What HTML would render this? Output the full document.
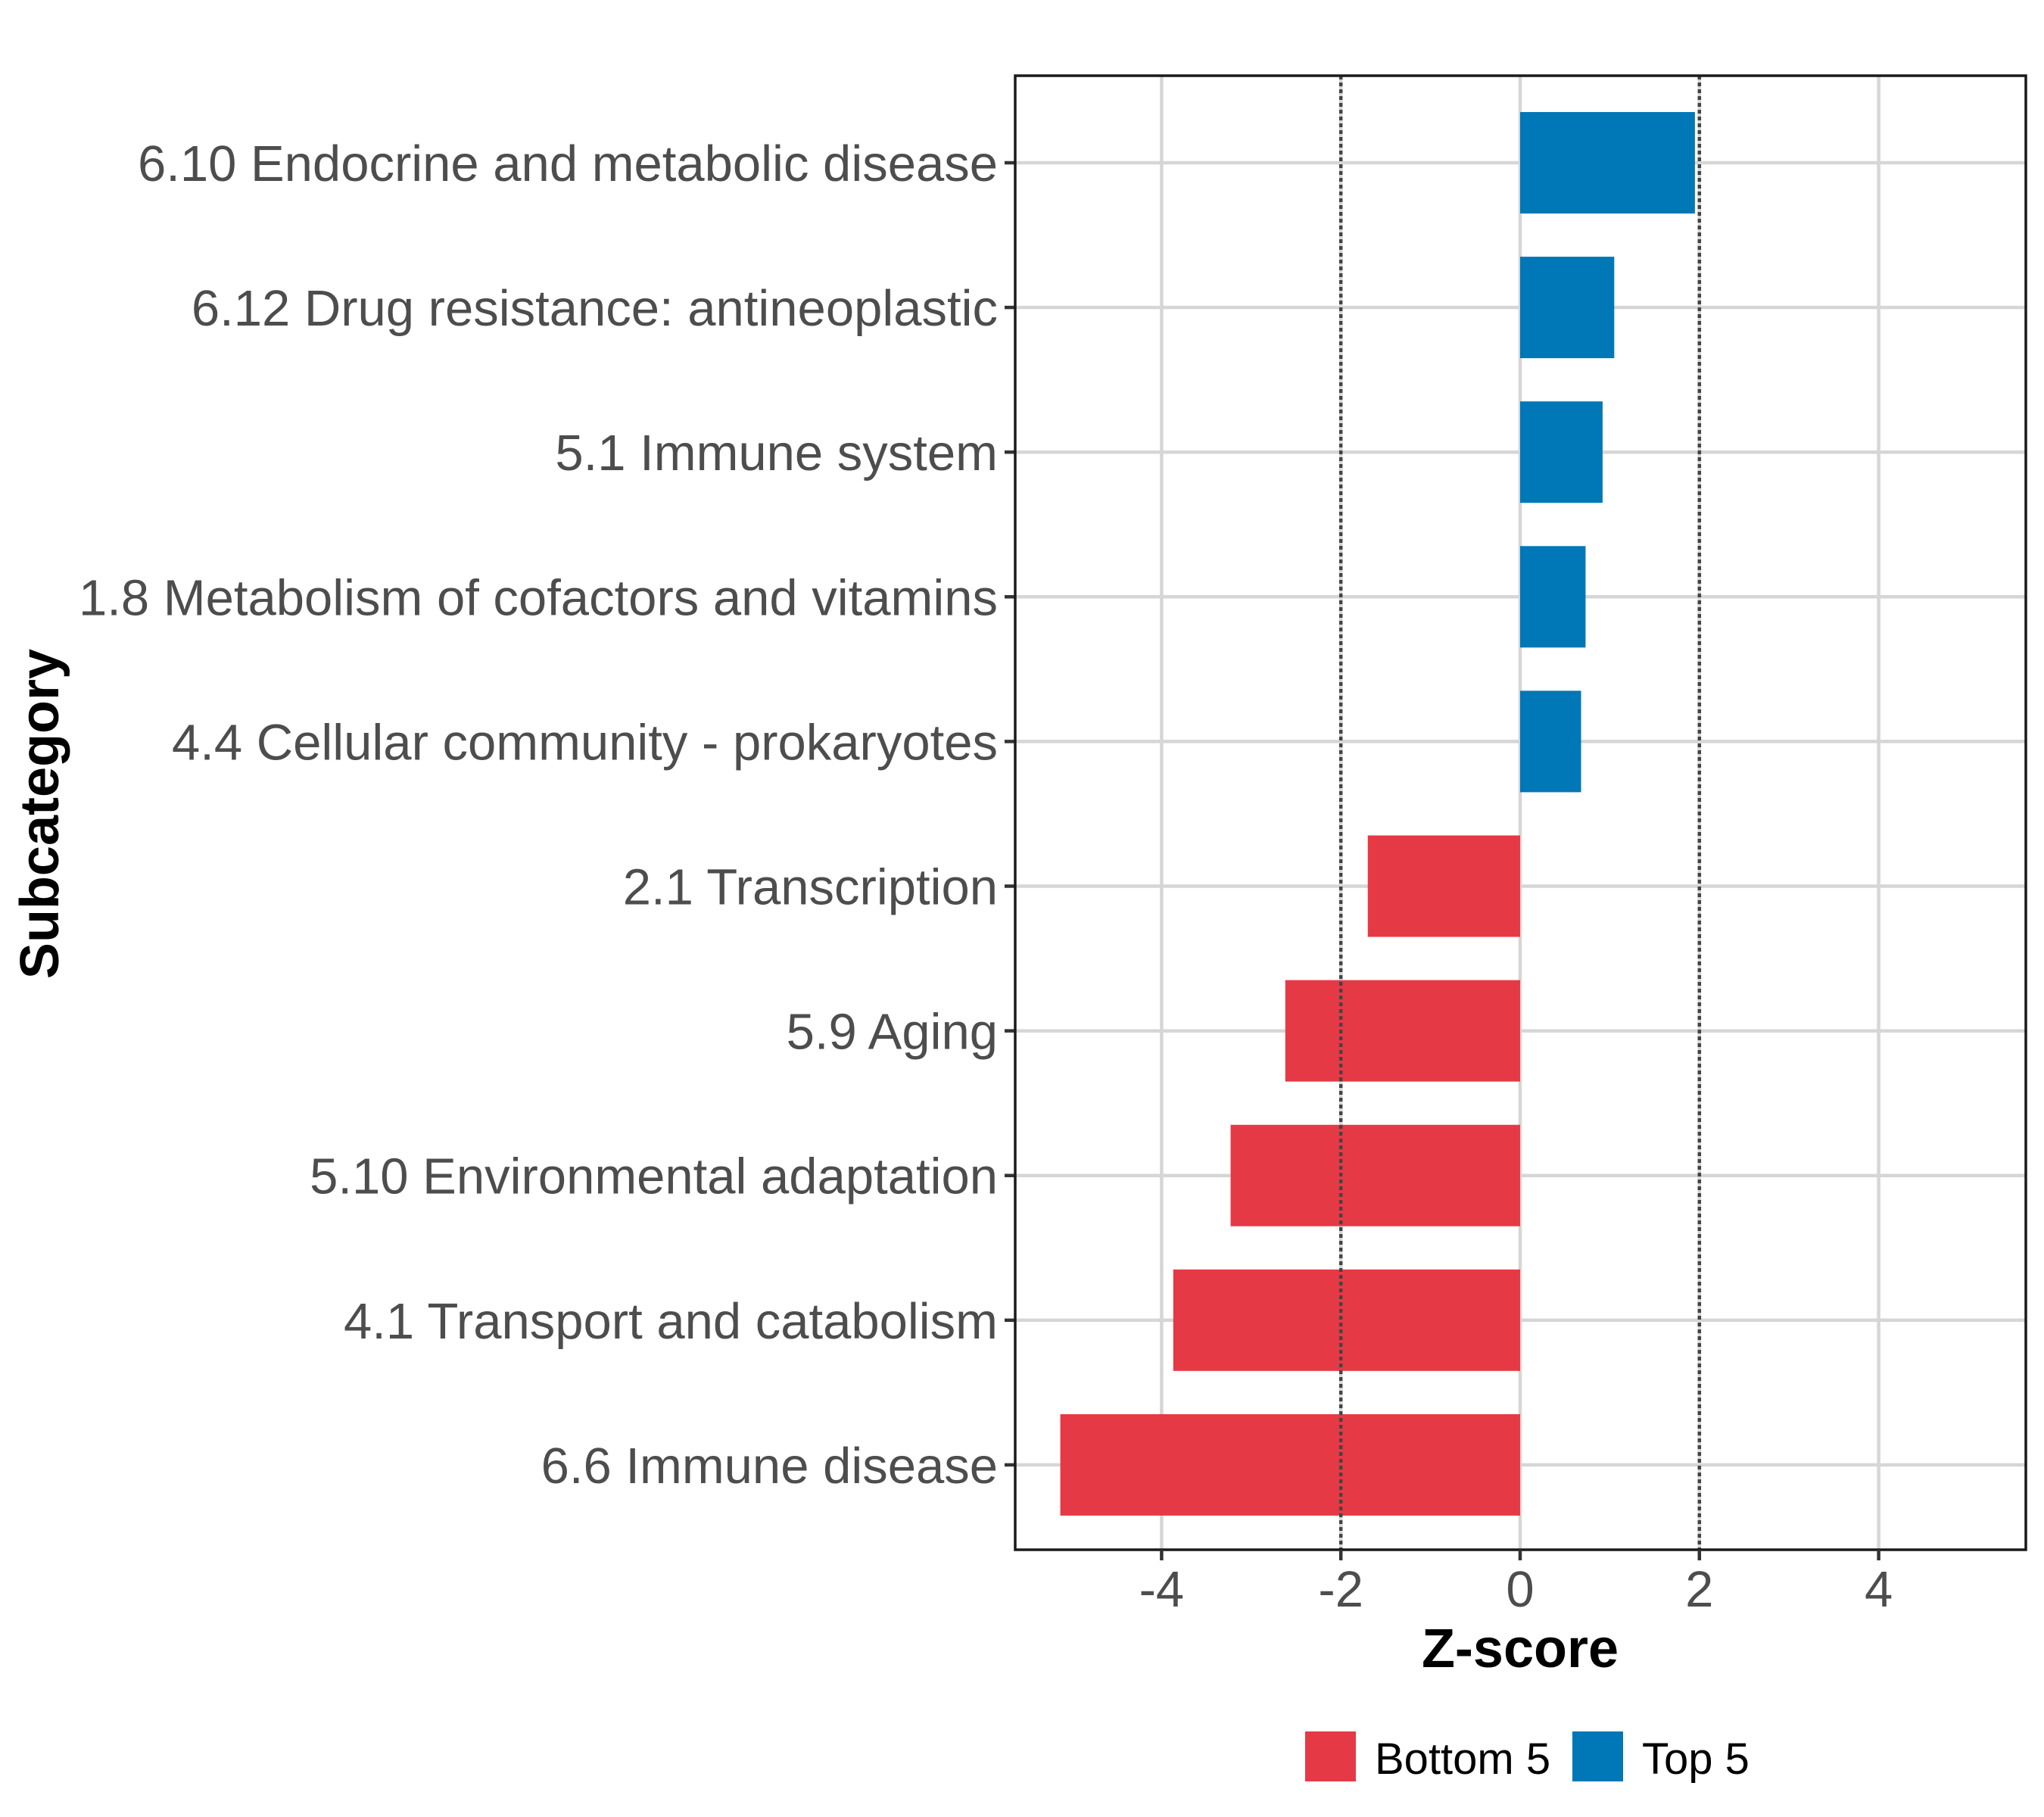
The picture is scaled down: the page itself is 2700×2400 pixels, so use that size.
<!DOCTYPE html>
<html><head><meta charset="utf-8"><style>body{margin:0;background:#fff}svg{display:block}</style></head>
<body>
<svg id="chart" width="2700" height="2400" xmlns="http://www.w3.org/2000/svg" font-family="Liberation Sans, sans-serif"></svg>
<script>
const categories = ["6.10 Endocrine and metabolic disease","6.12 Drug resistance: antineoplastic","5.1 Immune system","1.8 Metabolism of cofactors and vitamins","4.4 Cellular community - prokaryotes","2.1 Transcription","5.9 Aging","5.10 Environmental adaptation","4.1 Transport and catabolism","6.6 Immune disease"];
const zscores = [1.95,1.05,0.92,0.73,0.68,-1.70,-2.62,-3.23,-3.87,-5.13];
const groups = ["Top 5","Top 5","Top 5","Top 5","Top 5","Bottom 5","Bottom 5","Bottom 5","Bottom 5","Bottom 5"];
const xTicks = [-4,-2,0,2,4];
const xTickLabels = ["-4","-2","0","2","4"];
const thresholds = [-2,2];

const NS="http://www.w3.org/2000/svg";
const svg=document.getElementById('chart');
const L=1341,R=2676,T=100,B=2047;
const x=v=>2008+v*118.4;
const y=i=>215+i*191.1;
const BH=134;
const colors={"Top 5":"#0077b6","Bottom 5":"#e63946"};
function mk(tag,attrs,parent){const e=document.createElementNS(NS,tag);for(const k in attrs)e.setAttribute(k,attrs[k]);(parent||svg).appendChild(e);return e;}

const grid=mk('g',{});


xTicks.forEach(t=>{const l=mk('line',{x1:x(t),x2:x(t),y1:T,y2:B,stroke:'#d6d6d6','stroke-width':4.5},grid);

});
categories.forEach((c,i)=>{const l=mk('line',{x1:L,x2:R,y1:y(i),y2:y(i),stroke:'#d6d6d6','stroke-width':4.5},grid);

});

categories.forEach((c,i)=>{const v=zscores[i];
const r=mk('rect',{x:Math.min(x(0),x(v)),y:y(i)-BH/2,width:Math.abs(x(v)-x(0)),height:BH,fill:colors[groups[i]]});


const tk=mk('line',{x1:L-14,x2:L,y1:y(i),y2:y(i),stroke:'#333','stroke-width':4.5});


const t=mk('text',{x:1318,y:y(i)+24,'text-anchor':'end','font-size':67,fill:'#4d4d4d'});
t.textContent=c;

});

thresholds.forEach(t=>{const l=mk('line',{x1:x(t),x2:x(t),y1:T,y2:B,stroke:'#444','stroke-width':4.5,'stroke-dasharray':'5 4'});

});

const frame=mk('rect',{x:L,y:T,width:R-L,height:B-T,fill:'none',stroke:'#1a1a1a','stroke-width':3.5});



xTicks.forEach((t,i)=>{const tk=mk('line',{x1:x(t),x2:x(t),y1:B,y2:B+14,stroke:'#333','stroke-width':4.5});


const tx=mk('text',{x:x(t),y:2122,'text-anchor':'middle','font-size':67,fill:'#4d4d4d'});
tx.textContent=xTickLabels[i];

});

const xt=mk('text',{x:2008,y:2202,'text-anchor':'middle','font-size':72,'font-weight':'bold',fill:'#000'});
xt.textContent='Z-score';


const yt=mk('text',{x:0,y:0,'text-anchor':'middle','font-size':72,'font-weight':'bold',fill:'#000',transform:'translate(77,1075) rotate(-90)'});
yt.textContent='Subcategory';



const legendItems=["Bottom 5","Top 5"];
const lx=[1724,2077];
legendItems.forEach((g,i)=>{const k=mk('rect',{x:lx[i],y:2287,width:67,height:66,fill:colors[g]});


const t=mk('text',{x:lx[i]+92,y:2343,'font-size':58,fill:'#000'});
t.textContent=g;

});
</script>
</body></html>
